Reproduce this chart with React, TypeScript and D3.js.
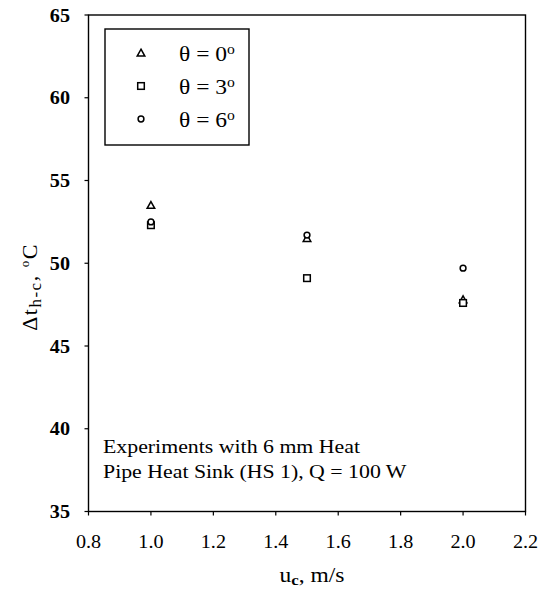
import React from "react";
import * as d3 from "d3";

const speeds = [1.0, 1.5, 2.0];
const theta0 = [53.5, 51.5, 47.8];
const theta3 = [52.3, 49.1, 47.6];
const theta6 = [52.5, 51.7, 49.7];
const xTicks = [0.8, 1.0, 1.2, 1.4, 1.6, 1.8, 2.0, 2.2];
const yTicks = [35, 40, 45, 50, 55, 60, 65];
const legendLabels = ["0", "3", "6"];

const W = 546, H = 590;
const M = { left: 88.5, right: 525.5, top: 15, bottom: 511.5 };
const FONT = "'Liberation Serif', 'Times New Roman', serif";
const SX = 1.12;

function Marker({ kind, x, y }: { kind: string; x: number; y: number }) {
  const sw = 1.5;
  if (kind === "tri") {
    const s = 3.8;
    const p = d3.path();
    p.moveTo(x, y - s);
    p.lineTo(x + s, y + s * 0.8);
    p.lineTo(x - s, y + s * 0.8);
    p.closePath();
    return <path d={p.toString()} fill="white" stroke="black" strokeWidth={sw} />;
  }
  if (kind === "sq") {
    const s = 3.3;
    return <rect x={x - s} y={y - s} width={2 * s} height={2 * s} fill="white" stroke="black" strokeWidth={sw} />;
  }
  return <circle cx={x} cy={y} r={2.9} fill="white" stroke="black" strokeWidth={sw} />;
}

export default function App() {
  const x = d3.scaleLinear().domain([0.8, 2.2]).range([M.left, M.right]);
  const y = d3.scaleLinear().domain([35, 65]).range([M.bottom, M.top]);
  const series = [
    { kind: "tri", vals: theta0 },
    { kind: "sq", vals: theta3 },
    { kind: "circ", vals: theta6 },
  ];
  return (
    <svg width={W} height={H} style={{ position: "absolute", left: 0, top: 0, background: "white" }} fontFamily={FONT}>
      <rect x={0} y={0} width={W} height={H} fill="white" />
      <rect x={M.left} y={M.top} width={M.right - M.left} height={M.bottom - M.top} fill="none" stroke="black" strokeWidth={1.4} />
      {xTicks.map((t) => (
        <g key={"x" + t}>
          <line x1={x(t)} x2={x(t)} y1={M.bottom} y2={M.bottom + 4} stroke="black" strokeWidth={1.2} />
          <text transform={`translate(${x(t)},548) scale(${SX},1)`} textAnchor="middle" fontSize={18}>{t.toFixed(1)}</text>
        </g>
      ))}
      {yTicks.map((t) => (
        <g key={"y" + t}>
          <line x1={M.left - 4} x2={M.left} y1={y(t)} y2={y(t)} stroke="black" strokeWidth={1.2} />
          <text transform={`translate(70,${y(t) + 6.5}) scale(${SX},1)`} textAnchor="end" fontSize={18} fontWeight="bold">{t}</text>
        </g>
      ))}
      {series.map((s, si) =>
        s.vals.map((v, i) => <Marker key={si + "-" + i} kind={s.kind} x={x(speeds[i])} y={y(v)} />)
      )}
      <rect x={105} y={29} width={144} height={116} fill="white" stroke="black" strokeWidth={1.4} />
      {series.map((s, i) => (
        <g key={"lg" + i}>
          <Marker kind={s.kind} x={141} y={53 + i * 33} />
          <text transform={`translate(179,${53 + i * 33 + 7.5}) scale(${SX},1)`} fontSize={21}>
            {"θ = " + legendLabels[i]}
            <tspan fontSize={14} dy={-7}>o</tspan>
          </text>
        </g>
      ))}
      <text transform={`translate(103,453) scale(${SX},1)`} fontSize={19.5}>Experiments with 6 mm Heat</text>
      <text transform={`translate(103,478) scale(${SX},1)`} fontSize={19.5}>Pipe Heat Sink (HS 1), Q = 100 W</text>
      <text transform={`translate(312,582) scale(${SX},1)`} textAnchor="middle" fontSize={21}>
        u<tspan fontSize={15} dy={3} fontWeight="bold">c</tspan>
        <tspan dy={-3}>, m/s</tspan>
      </text>
      <text transform="translate(37,287) rotate(-90)" textAnchor="middle" fontSize={22} letterSpacing={1.5}>
        Δt<tspan fontSize={17} dy={4}>h-c</tspan>
        <tspan dy={-4}>, </tspan>
        <tspan fontSize={13} dy={-8}>o</tspan>
        <tspan dy={8}>C</tspan>
      </text>
    </svg>
  );
}
